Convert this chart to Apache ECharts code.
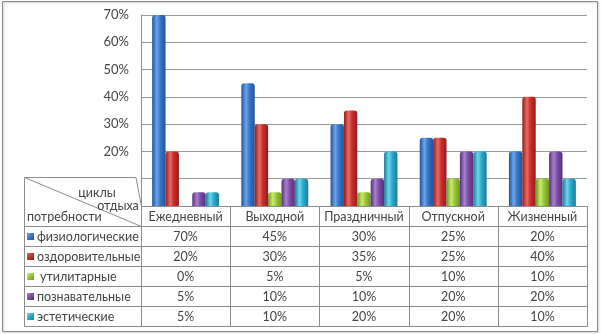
<!DOCTYPE html>
<html>
<head>
<meta charset="utf-8">
<script src="https://cdn.jsdelivr.net/npm/echarts@6/dist/echarts.min.js"></script>
<style>
  html, body { margin: 0; padding: 0; background: #ffffff; }
  #chart { width: 601px; height: 334px; }
</style>
</head>
<body>
<div id="chart"></div>
<script>
// Циклы отдыха (columns) and needs (rows), values in percent
const categories = ['Ежедневный', 'Выходной', 'Праздничный', 'Отпускной', 'Жизненный'];
const needs = ['физиологические', 'оздоровительные', 'утилитарные', 'познавательные', 'эстетические'];
const physiological = [70, 45, 30, 25, 20];
const health = [20, 30, 35, 25, 40];
const utilitarian = [0, 5, 5, 10, 10];
const cognitive = [5, 10, 10, 20, 20];
const aesthetic = [5, 10, 20, 20, 10];
const yMin = 0, yMax = 70, yStep = 10;

const seriesValues = [physiological, health, utilitarian, cognitive, aesthetic];
// base, edge, highlight colour per series
const palette = [
  ['#3a76c6', '#22529a', '#6aa6ec'],
  ['#c8302e', '#921c1c', '#ec6a62'],
  ['#9cc83a', '#6e9422', '#c8ec72'],
  ['#7c4ea6', '#55307a', '#a882d0'],
  ['#2eaccc', '#1a7c98', '#6cd6ee']
];

function cylinder(c) {
  return new echarts.graphic.LinearGradient(0, 0, 1, 0, [
    { offset: 0, color: c[1] },
    { offset: 0.35, color: c[2] },
    { offset: 0.6, color: c[0] },
    { offset: 1, color: c[1] }
  ]);
}

const FONT = 'Lato, "Open Sans", sans-serif';
const FONT_SIZE = 12.5;
const TEXT = '#444444';
const LINE = '#8c8c8c';

const chart = echarts.init(document.getElementById('chart'), null, { renderer: 'canvas' });

chart.setOption({
  animation: false,
  backgroundColor: '#ffffff',
  grid: { left: 141, right: 14, top: 15, bottom: 128, containLabel: false },
  xAxis: {
    type: 'category',
    data: categories,
    axisLine: { show: false },
    axisTick: { show: false },
    axisLabel: { show: false }
  },
  yAxis: {
    type: 'value',
    min: yMin, max: yMax, interval: yStep,
    axisLine: { show: true, lineStyle: { color: LINE } },
    axisTick: { show: false },
    splitLine: { lineStyle: { color: '#9a9a9a', width: 1 } },
    axisLabel: {
      margin: 12,
      color: TEXT,
      fontFamily: FONT,
      fontSize: 13,
      // the two lowest ticks sit behind the table's header cell
      formatter: v => (v >= 20 ? v + '%' : '')
    }
  },
  series: seriesValues.map((vals, i) => ({
    type: 'bar',
    name: needs[i],
    data: vals,
    barGap: '0%',
    barCategoryGap: '25%',
    itemStyle: { color: cylinder(palette[i]), borderRadius: [3, 3, 0, 0] }
  }))
});

// Data table under the plot, laid out from the category axis
function buildTable() {
  const c0 = chart.convertToPixel({ xAxisIndex: 0 }, 0);
  const c1 = chart.convertToPixel({ xAxisIndex: 0 }, 1);
  const band = c1 - c0;
  const base = Math.round(chart.convertToPixel({ yAxisIndex: 0 }, 0)) + 0.5;
  const left = 24.5;
  const colX = Math.round(c0 - band / 2) + 0.5;
  const rowH = 20;
  const nRows = needs.length + 1;
  const bottom = base + rowH * nRows;
  const right = Math.round(c0 + band * (categories.length - 0.5)) + 0.5;
  const headTop = 177.5;

  const g = [];
  const line = (x1, y1, x2, y2) => g.push({
    type: 'line', silent: true, z: 10,
    shape: { x1, y1, x2, y2 },
    style: { stroke: LINE, lineWidth: 1 }
  });
  const text = (x, y, t, align) => g.push({
    type: 'text', silent: true, z: 11,
    x, y,
    style: {
      text: t, fill: TEXT, font: FONT_SIZE + 'px ' + FONT,
      align: align, verticalAlign: 'middle'
    }
  });

  // header cell with the diagonal split
  g.push({
    type: 'polygon', silent: true, z: 9,
    shape: { points: [[left, headTop], [colX - 5.5, headTop], [colX, base], [colX, base + rowH], [left, base + rowH]] },
    style: { fill: '#ffffff', stroke: null }
  });
  line(left, headTop, colX - 5.5, headTop);
  line(colX - 5.5, headTop, colX, base);
  line(left, headTop, colX, base + rowH);
  text(97, 193, 'циклы', 'center');
  text(118, 205.5, 'отдыха', 'center');
  text(27, base + rowH / 2, 'потребности', 'left');

  // horizontal rules
  line(colX, base, right, base);
  for (let r = 1; r <= nRows; r++) {
    line(left, base + rowH * r, right, base + rowH * r);
  }
  // vertical rules
  line(left, headTop, left, bottom);
  for (let k = 0; k <= categories.length; k++) {
    const x = Math.round(c0 + band * (k - 0.5)) + 0.5;
    line(x, base, x, bottom);
  }

  // column headers
  categories.forEach((name, k) => {
    text(c0 + band * k, base + rowH / 2 + 0.5, name, 'center');
  });

  // rows: legend key, need name, values
  needs.forEach((name, r) => {
    const cy = base + rowH * (r + 1) + rowH / 2;
    const c = palette[r];
    g.push({
      type: 'rect', silent: true, z: 11,
      shape: { x: 27, y: Math.round(cy) - 4, width: 7, height: 7 },
      style: {
        fill: new echarts.graphic.LinearGradient(0, 0, 1, 1, [
          { offset: 0, color: c[2] }, { offset: 0.5, color: c[0] }, { offset: 1, color: c[1] }
        ])
      }
    });
    text(name === 'утилитарные' ? 40 : 37, cy + 0.5, name, 'left');
    seriesValues[r].forEach((v, k) => {
      text(c0 + band * k, cy + 0.5, v + '%', 'center');
    });
  });

  // outer frame
  g.push({
    type: 'rect', silent: true, z: 12,
    shape: { x: 2.5, y: 1.5, width: 595, height: 330 },
    style: {
      fill: null, stroke: '#8a8a8a', lineWidth: 1,
      shadowColor: 'rgba(0,0,0,0.25)', shadowBlur: 2, shadowOffsetX: 1, shadowOffsetY: 1
    }
  });

  chart.setOption({ graphic: g });
}

buildTable();
</script>
</body>
</html>
